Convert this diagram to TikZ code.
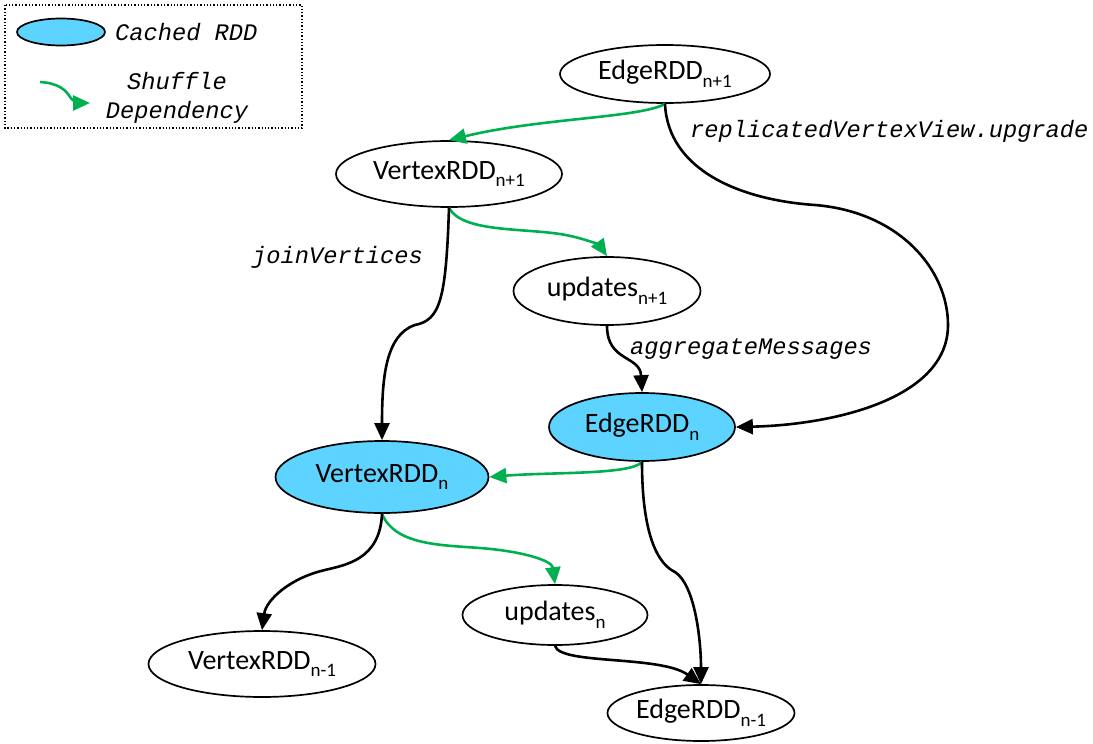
\documentclass[tikz,border=0pt]{standalone}
\usepackage{fontspec}
\setmainfont{Carlito}
\newfontfamily\codefont{Liberation Mono}
\usetikzlibrary{shapes.geometric,arrows.meta}
\definecolor{cachefill}{HTML}{5CD4FF}
\definecolor{shufflegreen}{HTML}{00B050}
% RDD name with a lowered, smaller index
\newcommand{\rddname}[2]{#1\raisebox{-0.28em}{\fontsize{19}{19}\selectfont #2}}

\begin{document}
\begin{tikzpicture}[x=1pt,y=-1pt,
  rdd/.style={ellipse, draw, line width=1.7pt, inner sep=0pt, fill=white,
    font=\fontsize{28}{28}\selectfont},
  cached/.style={rdd, fill=cachefill},
  dep/.style={line width=2.6pt, -{Triangle[length=17pt,width=15pt]}},
  shuffle/.style={dep, draw=shufflegreen},
  oplabel/.style={font=\codefont\itshape\fontsize{23.7}{29}\selectfont,
    anchor=base west, inner sep=0pt}]

\useasboundingbox (0,0) rectangle (1093,744);

% legend
\draw[dotted, line width=1.3pt] (5,5) rectangle (302,128);
\node[cached, minimum width=88pt, minimum height=27pt] (legcache) at (61,32) {};
\node[oplabel] (legcachetext) at (115,40) {Cached RDD};
\coordinate (legfrom) at (40,82);
\coordinate (legto) at (90,103);
\draw[shuffle] (legfrom) .. controls (58,83) and (66,90) .. (70,97)
  .. controls (72,101) and (80,103) .. (legto);
\node[oplabel, anchor=base] (legshuffle) at (177,89) {Shuffle};
\node[oplabel, anchor=base] (legdep) at (177,118) {Dependency};

% RDD nodes
\node[rdd, minimum width=210pt, minimum height=58pt] (e1) at (665,74) {\rddname{EdgeRDD}{n+1}};
\node[rdd, minimum width=226pt, minimum height=66pt] (v1) at (449,174) {\rddname{VertexRDD}{n+1}};
\node[rdd, minimum width=187pt, minimum height=68pt] (u1) at (607,291) {\rddname{updates}{n+1}};
\node[cached, minimum width=186pt, minimum height=68pt] (e0) at (642,427) {\rddname{EdgeRDD}{n}};
\node[cached, minimum width=213pt, minimum height=72pt] (v0) at (382,477) {\rddname{VertexRDD}{n}};
\node[rdd, minimum width=185pt, minimum height=60pt] (u0) at (555,615) {\rddname{updates}{n}};
\node[rdd, minimum width=227pt, minimum height=66pt] (vm) at (262,664) {\rddname{VertexRDD}{n-1}};
\node[rdd, minimum width=187pt, minimum height=56pt] (em) at (701,713) {\rddname{EdgeRDD}{n-1}};

% shuffle dependencies
\draw[shuffle] (e1.south) .. controls (640,118) and (540,118) .. (v1.north);
\draw[shuffle] (v1.south) .. controls (462,232) and (520,228) .. (560,234)
  .. controls (585,238) and (600,246) .. (u1.north);
\draw[shuffle] (e0.south) .. controls (632,475) and (550,472) .. (v0.east);
\draw[shuffle] (v0.south) .. controls (395,545) and (440,545) .. (480,548)
  .. controls (520,551) and (552,560) .. (u0.north);

% narrow dependencies
\draw[dep] (e1.south) .. controls (668,170) and (740,200) .. (815,205)
  .. controls (900,212) and (948,270) .. (948,325)
  .. controls (948,400) and (830,425) .. (e0.east);
\draw[dep] (v1.south) .. controls (446,300) and (440,320) .. (415,325)
  .. controls (385,335) and (382,380) .. (v0.north);
\draw[dep] (u1.south) .. controls (607,362) and (640,355) .. (e0.north);
\draw[dep] (v0.south) .. controls (380,560) and (345,565) .. (325,570)
  .. controls (290,578) and (266,600) .. (vm.north);
\draw[dep] (e0.south) .. controls (642,540) and (660,565) .. (675,572)
  .. controls (695,585) and (701,640) .. (em.north);
\draw[dep] (u0.south) .. controls (560,665) and (660,655) .. (em.north);

% operation labels
\node[oplabel] (lupgrade) at (690,137) {replicatedVertexView.upgrade};
\node[oplabel] (ljoin) at (252,263) {joinVertices};
\node[oplabel] (laggr) at (630,354) {aggregateMessages};

\end{tikzpicture}
\end{document}
